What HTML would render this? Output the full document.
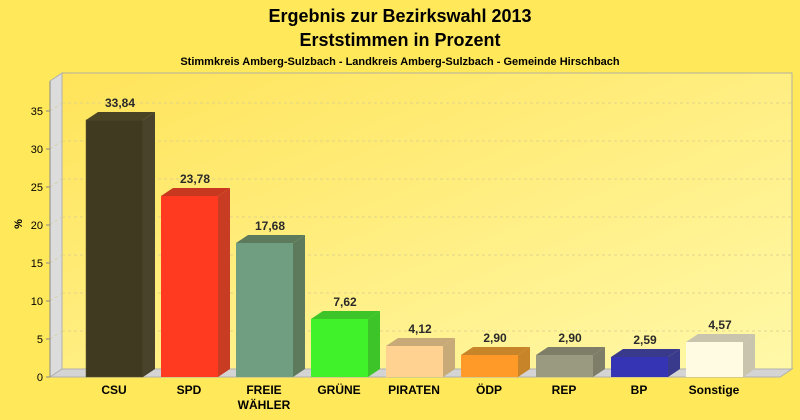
<!DOCTYPE html>
<html><head><meta charset="utf-8"><style>
html,body{margin:0;padding:0;background:#ffe85a;}
svg{display:block;font-family:"Liberation Sans",Arial,sans-serif;}
</style></head><body>
<svg width="800" height="420" viewBox="0 0 800 420">
<defs>
<linearGradient id="bg" x1="0" y1="0" x2="1" y2="1">
<stop offset="0" stop-color="#ffe45a"/><stop offset="1" stop-color="#fff8a8"/>
</linearGradient>
</defs>
<rect width="800" height="420" fill="#ffe85a"/>
<text x="400" y="22" text-anchor="middle" font-size="18" font-weight="bold">Ergebnis zur Bezirkswahl 2013</text>
<text x="400" y="46" text-anchor="middle" font-size="18" font-weight="bold">Erststimmen in Prozent</text>
<text x="400" y="65" text-anchor="middle" font-size="11" font-weight="bold">Stimmkreis Amberg-Sulzbach - Landkreis Amberg-Sulzbach - Gemeinde Hirschbach</text>
<rect x="62" y="73" width="730" height="296" fill="url(#bg)" stroke="#b0b0a0"/>
<polygon points="50,81 62,73 62,369 50,377" fill="#dcdcdc" stroke="#b0b0b0"/>
<polygon points="50,377 62,369 792,369 780,377" fill="#d4d4d4" stroke="#b0b0b0"/>
<g stroke="#d6cc90" stroke-dasharray="3,3" stroke-width="0.7" fill="none">
<path d="M62,331H792M62,293H792M62,255H792M62,217H792M62,179H792M62,141H792M62,103H792"/>
<path d="M50,339L62,331M50,301L62,293M50,263L62,255M50,225L62,217M50,187L62,179M50,149L62,141M50,111L62,103"/>
</g>
<g font-size="11" text-anchor="end" fill="#000">
<text x="43" y="381">0</text><text x="43" y="343">5</text><text x="43" y="305">10</text><text x="43" y="267">15</text><text x="43" y="229">20</text><text x="43" y="191">25</text><text x="43" y="153">30</text><text x="43" y="115">35</text>
</g>
<g stroke="#888" stroke-width="1"><path d="M46,377H50M46,339H50M46,301H50M46,263H50M46,225H50M46,187H50M46,149H50M46,111H50M50,81V377"/></g>
<text transform="translate(22,224) rotate(-90)" font-size="11" font-weight="bold" text-anchor="middle">%</text>
<g stroke-width="0.5">
<rect x="86" y="120" width="57" height="257" fill="#403a20" stroke="#5a5430"/>
<polygon points="86,120 98,112 155,112 143,120" fill="#4a4424"/>
<polygon points="143,120 155,112 155,369 143,377" fill="#48432a"/>
<rect x="161" y="196" width="57" height="181" fill="#ff3a20"/>
<polygon points="161,196 173,188 230,188 218,196" fill="#c83820"/>
<polygon points="218,196 230,188 230,369 218,377" fill="#c83c24"/>
<rect x="236" y="243" width="57" height="134" fill="#6f9e80"/>
<polygon points="236,243 248,235 305,235 293,243" fill="#5e7a5c"/>
<polygon points="293,243 305,235 305,369 293,377" fill="#5e7a5c"/>
<rect x="311" y="319" width="57" height="58" fill="#3ff22a"/>
<polygon points="311,319 323,311 380,311 368,319" fill="#3cc428"/>
<polygon points="368,319 380,311 380,369 368,377" fill="#3cc428"/>
<rect x="386" y="346" width="57" height="31" fill="#ffd292"/>
<polygon points="386,346 398,338 455,338 443,346" fill="#c8aa78"/>
<polygon points="443,346 455,338 455,369 443,377" fill="#c8aa78"/>
<rect x="461" y="355" width="57" height="22" fill="#ff9a28"/>
<polygon points="461,355 473,347 530,347 518,355" fill="#c88428"/>
<polygon points="518,355 530,347 530,369 518,377" fill="#c88428"/>
<rect x="536" y="355" width="57" height="22" fill="#9a9a80"/>
<polygon points="536,355 548,347 605,347 593,355" fill="#7e7e68"/>
<polygon points="593,355 605,347 605,369 593,377" fill="#7e7e68"/>
<rect x="611" y="357" width="57" height="20" fill="#3434b4"/>
<polygon points="611,357 623,349 680,349 668,357" fill="#3a3a8c"/>
<polygon points="668,357 680,349 680,369 668,377" fill="#3a3a8c"/>
<rect x="686" y="342" width="57" height="35" fill="#fffbe2"/>
<polygon points="686,342 698,334 755,334 743,342" fill="#c8c4ae"/>
<polygon points="743,342 755,334 755,369 743,377" fill="#c8c4ae"/>
</g>
<g font-size="12" font-weight="bold" fill="#2a2a2a" text-anchor="middle">
<text x="120" y="107">33,84</text>
<text x="195" y="183">23,78</text>
<text x="270" y="230">17,68</text>
<text x="345" y="306">7,62</text>
<text x="420" y="333">4,12</text>
<text x="495" y="342">2,90</text>
<text x="570" y="342">2,90</text>
<text x="645" y="344">2,59</text>
<text x="720" y="329">4,57</text>
</g>
<g font-size="12" font-weight="bold" fill="#000" text-anchor="middle">
<text x="114" y="394">CSU</text>
<text x="189" y="394">SPD</text>
<text x="264" y="394">FREIE</text>
<text x="264" y="409">WÄHLER</text>
<text x="339" y="394">GRÜNE</text>
<text x="414" y="394">PIRATEN</text>
<text x="489" y="394">ÖDP</text>
<text x="564" y="394">REP</text>
<text x="639" y="394">BP</text>
<text x="714" y="394">Sonstige</text>
</g>
</svg>
</body></html>
